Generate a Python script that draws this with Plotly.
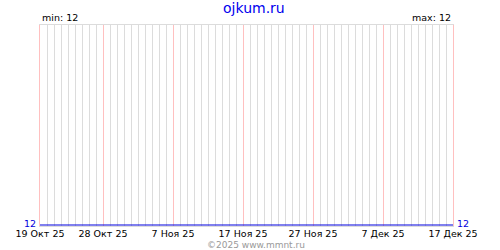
import pandas as pd
import plotly.graph_objects as go

# Data
dates = pd.date_range("2025-10-19", "2025-12-17", freq="D").strftime("%Y-%m-%d").tolist()
values = [12, 12, 12, 12, 12, 12, 12, 12, 12, 12,
          12, 12, 12, 12, 12, 12, 12, 12, 12, 12,
          12, 12, 12, 12, 12, 12, 12, 12, 12, 12,
          12, 12, 12, 12, 12, 12, 12, 12, 12, 12,
          12, 12, 12, 12, 12, 12, 12, 12, 12, 12,
          12, 12, 12, 12, 12, 12, 12, 12, 12, 12]
tick_dates = ["2025-10-19", "2025-10-28", "2025-11-07", "2025-11-17",
              "2025-11-27", "2025-12-07", "2025-12-17"]
tick_labels = ["19 Окт 25", "28 Окт 25", "7 Ноя 25", "17 Ноя 25",
               "27 Ноя 25", "7 Дек 25", "17 Дек 25"]
title_text = "ojkum.ru"
min_val = min(values)
max_val = max(values)

# daily grid positions that are not labelled
day_grid = [d for d in dates if d not in tick_dates]

FONT = "DejaVu Sans"
PINK = "#ffc0c0"
GRAY = "#dcdcdc"

fig = go.Figure()
fig.add_trace(go.Scatter(x=dates, y=values, mode="lines",
                         line=dict(color="rgba(0,0,0,0)", width=1),
                         hoverinfo="skip", xaxis="x", yaxis="y"))
fig.add_trace(go.Scatter(x=dates, y=values, mode="lines",
                         line=dict(color="#0000dd", width=1.2),
                         hoverinfo="skip", xaxis="x2", yaxis="y"))

fig.update_layout(
    width=500, height=250,
    margin=dict(l=40, r=47, t=25, b=24),
    paper_bgcolor="white", plot_bgcolor="white",
    showlegend=False,
    font=dict(family=FONT, size=9, color="black"),
    xaxis=dict(
        type="date",
        range=[dates[0], dates[-1]],
        tickvals=day_grid,
        showticklabels=False,
        showgrid=True, gridcolor=GRAY, gridwidth=1,
        showline=True, mirror=True, linecolor=GRAY, linewidth=1,
        ticks="", zeroline=False, fixedrange=True,
    ),
    xaxis2=dict(
        type="date", overlaying="x", side="bottom",
        range=[dates[0], dates[-1]],
        tickvals=tick_dates, ticktext=tick_labels,
        showgrid=True, gridcolor=PINK, gridwidth=1,
        showline=False,
        ticks="", tickfont=dict(family=FONT, size=9.5, color="black"),
        zeroline=False, fixedrange=True,
    ),
    yaxis=dict(
        range=[11.995, 13],
        showgrid=False, showticklabels=False, zeroline=False,
        showline=True, mirror=True, linecolor=PINK, linewidth=1,
        ticks="", fixedrange=True,
    ),
    annotations=[
        dict(text=title_text, xref="paper", yref="paper",
             x=0.517, y=1.085, xanchor="center", yanchor="middle",
             showarrow=False, font=dict(family=FONT, size=14, color="#0000ee")),
        dict(text=f"min: {min_val}", xref="paper", yref="paper",
             x=0.0, y=1.0, xanchor="left", yanchor="bottom",
             showarrow=False, font=dict(family=FONT, size=9.5, color="black")),
        dict(text=f"max: {max_val}", xref="paper", yref="paper",
             x=1.0, y=1.0, xanchor="right", yanchor="bottom",
             showarrow=False, font=dict(family=FONT, size=9.5, color="black")),
        dict(text=str(values[0]), xref="paper", yref="y",
             x=-0.005, y=values[0], xanchor="right", yanchor="middle", yshift=2,
             showarrow=False, font=dict(family=FONT, size=9.5, color="#0000dd")),
        dict(text=str(values[-1]), xref="paper", yref="y",
             x=1.005, y=values[-1], xanchor="left", yanchor="middle", yshift=2,
             showarrow=False, font=dict(family=FONT, size=9.5, color="#0000dd")),
        dict(text="©2025 www.mmnt.ru", xref="paper", yref="paper",
             x=0.523, y=-0.095, xanchor="center", yanchor="middle",
             showarrow=False, font=dict(family=FONT, size=9, color="#999999")),
    ],
)

fig.write_html("out.html")
